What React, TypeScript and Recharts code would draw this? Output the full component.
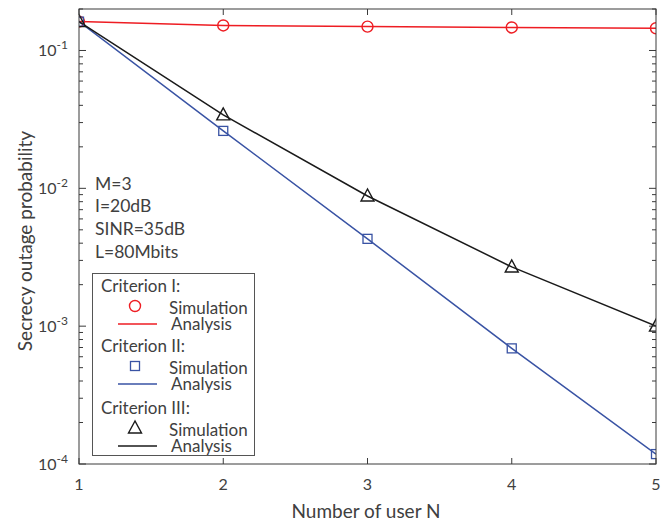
import React from 'react'
import { LineChart, Line, XAxis, YAxis } from 'recharts'

// number of users N
const users = [1, 2, 3, 4, 5]
// secrecy outage probability
const critI = [0.162, 0.152, 0.149, 0.147, 0.145]
const critII = [0.162, 0.0261, 0.0043, 0.00069, 0.000118]
const critIII = [0.162, 0.0341, 0.0088, 0.00269, 0.001]

const xTicks = [1, 2, 3, 4, 5]
const decades = [1e-4, 1e-3, 1e-2, 1e-1]
const mantissas = [1, 2, 3, 4, 5, 6, 7, 8, 9]
const yMax = 0.2

const notes = ['M=3', 'I=20dB', 'SINR=35dB', 'L=80Mbits']
const criteria = ['Criterion I:', 'Criterion II:', 'Criterion III:']

const RED = '#ee1d23'
const BLUE = '#3953a4'
const BLACK = '#1a1a1a'
const AXIS = '#3a3a3a'
const TXT = '#404040'
const FONT = 'Lato, "Open Sans", sans-serif'

const W = 667
const H = 523
const M = { top: 9, right: 11, bottom: 29, left: 19 }
const Y_W = 60
const X_H = 30
const PLOT_W = W - M.left - M.right - Y_W
const PLOT_H = H - M.top - M.bottom - X_H

const yTicks = decades.flatMap((d) => mantissas.map((m) => m * d))
const data = users.map((n, i) => ({ n, c1: critI[i], c2: critII[i], c3: critIII[i] }))

const isMajor = (v: number) => {
  const l = Math.log10(v)
  return Math.abs(l - Math.round(l)) < 1e-6
}

function Marker({ kind, cx, cy, color }: { kind: string; cx: number; cy: number; color: string }) {
  if (kind === 'circle') return <circle cx={cx} cy={cy} r={5.5} fill="none" stroke={color} strokeWidth={1.4} />
  if (kind === 'square') return <rect x={cx - 4.5} y={cy - 4.5} width={9} height={9} fill="none" stroke={color} strokeWidth={1.3} />
  return (
    <polygon
      points={`${cx},${cy - 7} ${cx - 6.5},${cy + 5} ${cx + 6.5},${cy + 5}`}
      fill="none"
      stroke={color}
      strokeWidth={1.4}
    />
  )
}

const dotOf = (kind: string, color: string) => (p: any) => (
  <Marker key={`${kind}-${p.index}`} kind={kind} cx={p.cx} cy={p.cy} color={color} />
)

// left ticks point inward; mirrored ticks drawn on the right edge of the box
function LeftTick({ x, y, payload }: any) {
  const v = payload.value
  const major = isMajor(v)
  const len = major ? 7 : 4
  const e = Math.round(Math.log10(v))
  return (
    <g>
      <path d={`M${x},${y}h${len}M${x + PLOT_W},${y}h${-len}`} stroke={AXIS} strokeWidth={1} fill="none" />
      {major && (
        <text x={x - 11} y={y + 6} textAnchor="end" fontSize={16} fill={TXT} fontFamily={FONT}>
          10<tspan dy={-7} fontSize={12}>{e}</tspan>
        </text>
      )}
    </g>
  )
}

function BottomTick({ x, y, payload }: any) {
  return (
    <g>
      <path d={`M${x},${y}v-6M${x},${y - PLOT_H}v6`} stroke={AXIS} strokeWidth={1} fill="none" />
      <text x={x} y={y + 26} textAnchor="middle" fontSize={16} fill={TXT} fontFamily={FONT}>
        {payload.value}
      </text>
    </g>
  )
}

function Overlay() {
  const groups = [
    { kind: 'circle', color: RED, y: 285 },
    { kind: 'square', color: BLUE, y: 345 },
    { kind: 'triangle', color: BLACK, y: 407 },
  ]
  return (
    <svg
      width={W}
      height={H}
      style={{ position: 'absolute', left: 0, top: 0, pointerEvents: 'none' }}
      fontFamily={FONT}
    >
      {/* axes box */}
      <rect x={M.left + Y_W} y={M.top} width={PLOT_W} height={PLOT_H} fill="none" stroke={AXIS} />
      {notes.map((t, i) => (
        <text key={t} x={95} y={183 + i * 22.7} dominantBaseline="central" fontSize={17.5} fill={TXT}>
          {t}
        </text>
      ))}
      <rect x={92.5} y={273.5} width={162} height={182} fill="#fff" stroke="#555" />
      {groups.map((g, i) => (
        <g key={i}>
          <text x={101} y={g.y} dominantBaseline="central" fontSize={17} fill={TXT}>
            {criteria[i]}
          </text>
          <Marker kind={g.kind} cx={135} cy={g.y + 21} color={g.color} />
          <text x={169} y={g.y + 22} dominantBaseline="central" fontSize={17} fill={TXT}>
            Simulation
          </text>
          <line x1={118} x2={157} y1={g.y + 39} y2={g.y + 39} stroke={g.color} strokeWidth={1.5} />
          <text x={171} y={g.y + 38} dominantBaseline="central" fontSize={17} fill={TXT}>
            Analysis
          </text>
        </g>
      ))}
      <text x={366} y={510} textAnchor="middle" dominantBaseline="central" fontSize={19} fill={TXT}>
        Number of user N
      </text>
      <text
        x={24}
        y={241}
        textAnchor="middle"
        dominantBaseline="central"
        fontSize={19}
        fill={TXT}
        transform="rotate(-90 24 241)"
      >
        Secrecy outage probability
      </text>
    </svg>
  )
}

export default function App() {
  return (
    <div style={{ position: 'absolute', left: 0, top: 0, width: W, height: H, background: '#fff' }}>
      <LineChart width={W} height={H} data={data} margin={M}>
        <XAxis
          dataKey="n"
          type="number"
          domain={[1, 5]}
          ticks={xTicks}
          allowDataOverflow
          height={X_H}
          tickSize={0}
          tickMargin={0}
          tickLine={false}
          axisLine={false}
          tick={<BottomTick />}
          interval={0}
        />
        <YAxis
          scale="log"
          domain={[1e-4, yMax]}
          allowDataOverflow
          ticks={yTicks}
          width={Y_W}
          tickSize={0}
          tickMargin={0}
          tickLine={false}
          axisLine={false}
          tick={<LeftTick />}
          interval={0}
        />
        <Line dataKey="c1" stroke={RED} strokeWidth={1.5} dot={dotOf('circle', RED)} isAnimationActive={false} />
        <Line dataKey="c2" stroke={BLUE} strokeWidth={1.5} dot={dotOf('square', BLUE)} isAnimationActive={false} />
        <Line dataKey="c3" stroke={BLACK} strokeWidth={1.5} dot={dotOf('triangle', BLACK)} isAnimationActive={false} />
      </LineChart>
      <Overlay />
    </div>
  )
}
